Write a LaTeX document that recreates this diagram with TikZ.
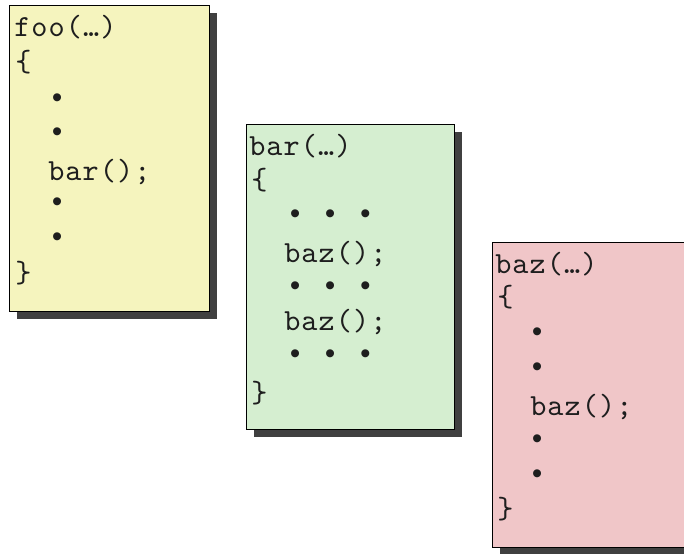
\documentclass[tikz,border=0pt]{standalone}
\usepackage{fontspec}
\newfontfamily\bulletfont{Liberation Mono}
\newfontfamily\codefont{lmmono10-regular.otf}[LetterSpace=3.6]
\usetikzlibrary{shadows}
\definecolor{fooFill}{RGB}{245,244,190}
\definecolor{barFill}{RGB}{213,238,208}
\definecolor{bazFill}{RGB}{240,198,200}
\definecolor{shadowGray}{RGB}{64,64,64}
\definecolor{codeText}{RGB}{30,30,30}
\tikzset{
  frame/.style={draw=black, line width=1.1pt, anchor=north west, inner sep=0pt,
    drop shadow={shadow xshift=5.25pt, shadow yshift=-5.25pt, fill=shadowGray, opacity=1}},
  code/.style={anchor=base west, inner sep=0pt, font=\codefont\fontsize{23}{26}\selectfont, text=codeText},
  dots/.style={anchor=base west, inner sep=0pt, font=\bulletfont\fontsize{22}{26}\selectfont, text=codeText},
}
\begin{document}
\begin{tikzpicture}[x=0.75pt,y=-0.75pt]
\useasboundingbox (0,0) rectangle (684,553);
% boxes
\node[frame, fill=fooFill, minimum width=150pt, minimum height=229.5pt] (foo) at (9,5) {};
\node[frame, fill=barFill, minimum width=156pt, minimum height=228.75pt] (bar) at (246,124) {};
\node[frame, fill=bazFill, minimum width=172.5pt, minimum height=228.75pt] (baz) at (492,242) {};
% foo text
\node[code] (f1) at (14,36) {foo(…)};
\node[code] (f2) at (15,71) {\{};
\node[dots] (f3) at (48,107) {•};
\node[dots] (f4) at (48,141) {•};
\node[code] (f5) at (48,180) {bar();};
\node[dots] (f6) at (48,211) {•};
\node[dots] (f7) at (48,246) {•};
\node[code] (f8) at (15,282) {\}};
% bar text
\node[code] (b1) at (249,155) {bar(…)};
\node[code] (b2) at (251,189) {\{};
\node[dots] (b3) at (286,223) {• • •};
\node[code] (b4) at (284,262) {baz();};
\node[dots] (b5) at (286,295) {• • •};
\node[code] (b6) at (284,330) {baz();};
\node[dots] (b7) at (286,363) {• • •};
\node[code] (b8) at (251,402) {\}};
% baz text
\node[code] (z1) at (495,273) {baz(…)};
\node[code] (z2) at (497,306) {\{};
\node[dots] (z3) at (528,341) {•};
\node[dots] (z4) at (528,376) {•};
\node[code] (z5) at (530,415) {baz();};
\node[dots] (z6) at (528,448) {•};
\node[dots] (z7) at (528,483) {•};
\node[code] (z8) at (497,518) {\}};
\end{tikzpicture}
\end{document}
